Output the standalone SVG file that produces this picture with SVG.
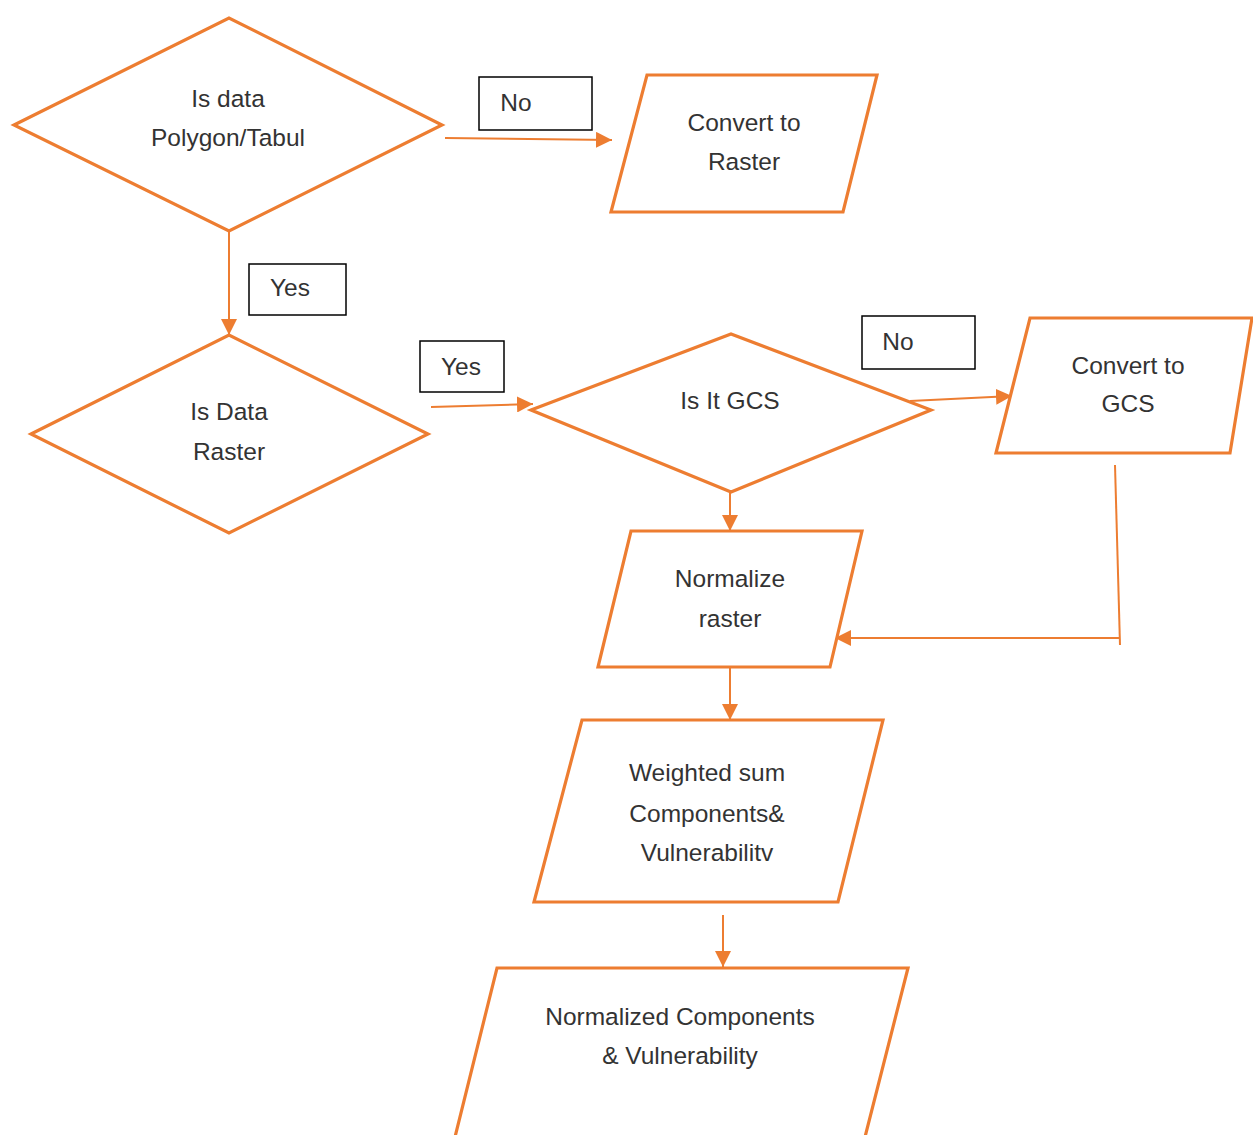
<svg xmlns="http://www.w3.org/2000/svg" width="1253" height="1135" viewBox="0 0 1253 1135">
<style>
.shape{fill:#fff;stroke:#ED7D31;stroke-width:3.2;stroke-linejoin:miter}
.lbl{fill:#fff;stroke:#000;stroke-width:1.5}
.t{font-family:"Liberation Sans",Arial,sans-serif;font-size:24.5px;fill:#333;text-anchor:middle;dominant-baseline:middle}
.c{fill:none;stroke:#ED7D31;stroke-width:2}
</style>
<defs>
<marker id="a" viewBox="0 0 10 10" refX="10" refY="5" markerWidth="16" markerHeight="16" orient="auto" markerUnits="userSpaceOnUse">
<path d="M0,0 L10,5 L0,10 z" fill="#ED7D31"/>
</marker>
</defs>
<rect width="1253" height="1135" fill="#fff"/>

<g id="connectors">
<path class="c" d="M445,138 L612,140" marker-end="url(#a)"/>
<path class="c" d="M229,231 L229,335" marker-end="url(#a)"/>
<path class="c" d="M431,407 L533,404" marker-end="url(#a)"/>
<path class="c" d="M910,401 L1012,396" marker-end="url(#a)"/>
<path class="c" d="M730,492 L730,531" marker-end="url(#a)"/>
<path class="c" d="M1115,465 L1120,645"/>
<path class="c" d="M1120,638 L835,638" marker-end="url(#a)"/>
<path class="c" d="M730,667 L730,720" marker-end="url(#a)"/>
<path class="c" d="M723,915 L723,967" marker-end="url(#a)"/>
</g>

<g id="node-polygon">
<polygon class="shape" points="14,125 229,18 442,125 229,231"/>
<text class="t" x="228" y="101">Is data</text>
<text class="t" x="228" y="140">Polygon/Tabul</text>
</g>

<g id="label-no1">
<rect class="lbl" x="479" y="77" width="113" height="53"/>
<text class="t" x="516" y="105">No</text>
</g>

<g id="node-convert-raster">
<polygon class="shape" points="647,75 877,75 843,212 611,212"/>
<text class="t" x="744" y="125">Convert to</text>
<text class="t" x="744" y="164">Raster</text>
</g>

<g id="label-yes1">
<rect class="lbl" x="249" y="264" width="97" height="51"/>
<text class="t" x="290" y="290">Yes</text>
</g>

<g id="node-raster">
<polygon class="shape" points="31,434 229,335 428,434 229,533"/>
<text class="t" x="229" y="414">Is Data</text>
<text class="t" x="229" y="454">Raster</text>
</g>

<g id="label-yes2">
<rect class="lbl" x="420" y="341" width="84" height="51"/>
<text class="t" x="461" y="369">Yes</text>
</g>

<g id="node-gcs">
<polygon class="shape" points="531,410 731,334 931,410 731,492"/>
<text class="t" x="730" y="403">Is It GCS</text>
</g>

<g id="label-no2">
<rect class="lbl" x="862" y="316" width="113" height="53"/>
<text class="t" x="898" y="344">No</text>
</g>

<g id="node-convert-gcs">
<polygon class="shape" points="1030,318 1252,318 1230,453 996,453"/>
<text class="t" x="1128" y="368">Convert to</text>
<text class="t" x="1128" y="406">GCS</text>
</g>

<g id="node-normalize">
<polygon class="shape" points="631,531 862,531 830,667 598,667"/>
<text class="t" x="730" y="581">Normalize</text>
<text class="t" x="730" y="621">raster</text>
</g>

<g id="node-weighted">
<polygon class="shape" points="582,720 883,720 838,902 534,902"/>
<text class="t" x="707" y="775">Weighted sum</text>
<text class="t" x="707" y="816">Components&amp;</text>
<text class="t" x="707" y="855">Vulnerabilitv</text>
</g>

<g id="node-normalized">
<polygon class="shape" points="497,968 908,968 865,1137 455,1137"/>
<text class="t" x="680" y="1019">Normalized Components</text>
<text class="t" x="680" y="1058">&amp; Vulnerability</text>
</g>
</svg>
